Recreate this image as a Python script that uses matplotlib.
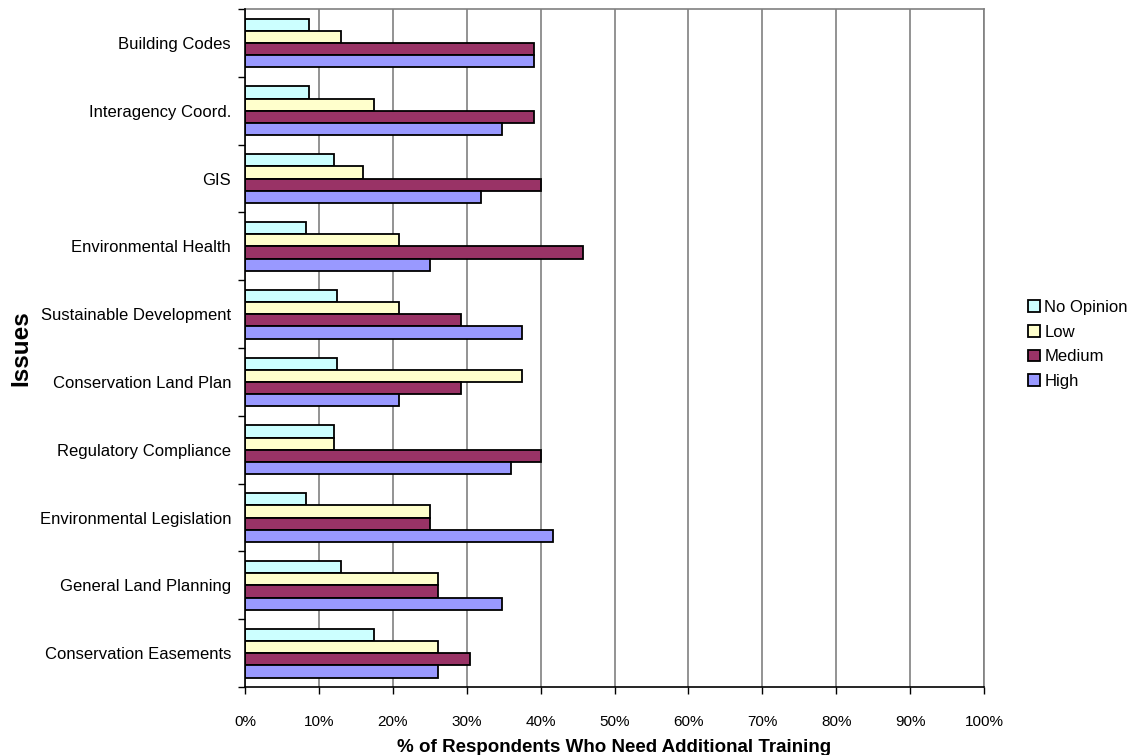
import numpy as np
import matplotlib.pyplot as plt

plt.rcParams['font.family'] = ['Liberation Sans', 'DejaVu Sans']

issues = ["Building Codes", "Interagency Coord.", "GIS", "Environmental Health",
          "Sustainable Development", "Conservation Land Plan", "Regulatory Compliance",
          "Environmental Legislation", "General Land Planning", "Conservation Easements"]
no_opinion = [8.7, 8.7, 12.0, 8.3, 12.5, 12.5, 12.0, 8.3, 13.0, 17.4]
low = [13.0, 17.4, 16.0, 20.8, 20.8, 37.5, 12.0, 25.0, 26.1, 26.1]
medium = [39.1, 39.1, 40.0, 45.8, 29.2, 29.2, 40.0, 25.0, 26.1, 30.4]
high = [39.1, 34.8, 32.0, 25.0, 37.5, 20.8, 36.0, 41.7, 34.8, 26.1]

series = [("No Opinion", no_opinion, "#CCFFFF"),
          ("Low", low, "#FFFFCC"),
          ("Medium", medium, "#993366"),
          ("High", high, "#9999FF")]

fig = plt.figure(figsize=(11.32, 7.55), dpi=100)
ax = fig.add_axes([0.2164, 0.090, 0.6529, 0.898])

n = len(issues)
centers = np.arange(n)[::-1] + 0.5  # first issue at top
h = 0.18
offsets = [1.5, 0.5, -0.5, -1.5]
for (name, vals, col), off in zip(series, offsets):
    ax.barh(centers + off * h, vals, height=h, color=col, edgecolor="black",
            linewidth=1.3, label=name, zorder=3)

ax.set_xlim(0, 100)
ax.set_ylim(0, n)
ax.set_xticks(np.arange(0, 101, 10))
ax.set_xticklabels([f"{v}%" for v in range(0, 101, 10)], fontsize=11)
ax.set_yticks(np.arange(0, n + 1))
ax.set_yticklabels([])
ax.set_yticks(centers, minor=True)
ax.set_yticklabels(issues, minor=True, fontsize=12)
ax.tick_params(axis="y", which="minor", length=0, pad=10)
ax.tick_params(axis="y", which="major", length=5, direction="out", width=1)
ax.tick_params(axis="x", length=5, direction="out", width=1, pad=15)

ax.grid(axis="x", color="#808080", linewidth=1.2, zorder=0)
for s in ["top", "right"]:
    ax.spines[s].set_color("#808080")
    ax.spines[s].set_linewidth(1.2)
for s in ["left", "bottom"]:
    ax.spines[s].set_color("black")
    ax.spines[s].set_linewidth(1.2)
    ax.spines[s].set_zorder(4)

ax.set_xlabel("% of Respondents Who Need Additional Training", fontsize=13.5,
              fontweight="bold", labelpad=7)
ax.set_ylabel("Issues", fontsize=17.5, fontweight="bold", labelpad=5)

ax.legend(loc="center left", bbox_to_anchor=(1.06, 0.505), frameon=False,
          fontsize=12, handlelength=0.7, handleheight=0.7, handletextpad=0.25,
          labelspacing=0.58, borderaxespad=0, borderpad=0)

fig.savefig("out.png", dpi=100)
